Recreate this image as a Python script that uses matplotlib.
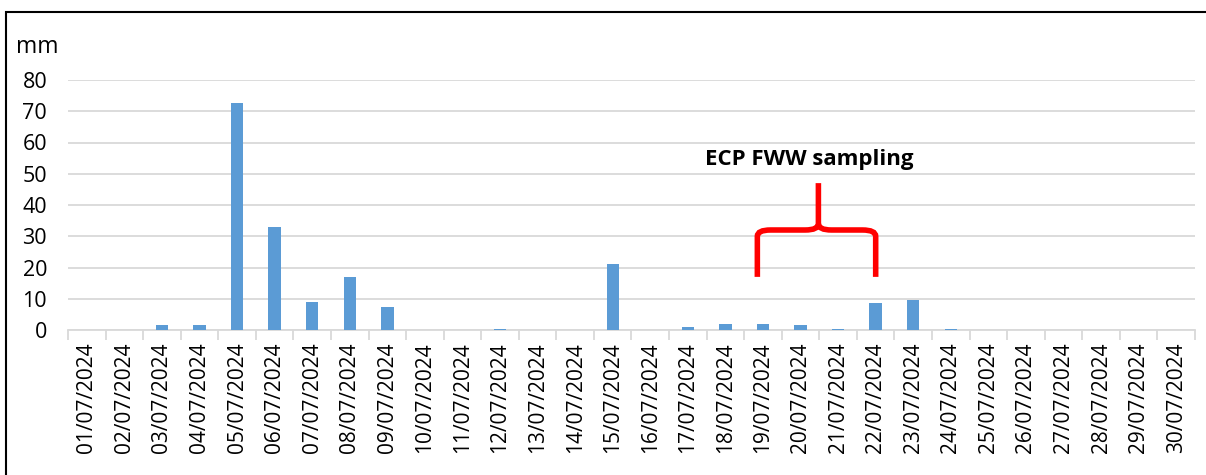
import numpy as np
import matplotlib.pyplot as plt
from matplotlib.path import Path
from matplotlib.patches import PathPatch, Rectangle

plt.rcParams['font.family'] = ['Open Sans', 'DejaVu Sans']

# daily rainfall, July 2024
dates = ['%02d/07/2024' % d for d in range(1, 31)]
rain_mm = [0, 0, 1.6, 1.6, 72.7, 33.0, 8.9, 17.0, 7.4, 0,
           0, 0.4, 0, 0, 21.0, 0, 1.0, 1.9, 1.9, 1.6,
           0.4, 8.8, 9.7, 0.4, 0, 0, 0, 0, 0, 0]
y_ticks = [0, 10, 20, 30, 40, 50, 60, 70, 80]
note = 'ECP FWW sampling'
note_from, note_to = '19/07/2024', '22/07/2024'

fig = plt.figure(figsize=(12.06, 4.75), dpi=100)
ax = fig.add_axes([68 / 1206, 1 - 330 / 475, (1195 - 68) / 1206, 250 / 475])

index = np.arange(len(dates))
ax.bar(index, rain_mm, 0.33, color='#5B9BD5', zorder=3)

ax.set_xlim(-0.5, len(dates) - 0.5)
ax.set_ylim(0, 80)
ax.set_yticks(y_ticks)
ax.yaxis.grid(True, color='#D9D9D9', lw=1.3, zorder=0)
ax.tick_params(axis='y', length=0, pad=15, labelsize=15.5)
for s in ['top', 'right', 'left']:
    ax.spines[s].set_visible(False)
ax.spines['bottom'].set_color('#D9D9D9')
ax.spines['bottom'].set_linewidth(1.3)

ax.set_xticks(index)
ax.set_xticklabels(dates, rotation=90, fontsize=15)
ax.tick_params(axis='x', length=0, pad=9)
ax.set_xticks(np.arange(-0.5, len(dates)), minor=True)
ax.tick_params(axis='x', which='minor', length=7, color='#D9D9D9', width=1.3)

fig.text(16 / 1206, 1 - 47 / 475, 'mm', fontsize=16.5, va='center', ha='left')

# curly brace over the sampling days
x0 = dates.index(note_from) - 0.15
x1 = dates.index(note_to)
xm = (x0 + x1) / 2 + 0.05
y_end, y_mid, y_top = 17, 32, 47
c = 0.35
verts = [(x0, y_end), (x0, y_mid - 2), (x0, y_mid), (x0 + c, y_mid),
         (xm - c, y_mid), (xm, y_mid), (xm, y_mid + 2), (xm, y_top)]
codes = [Path.MOVETO, Path.LINETO, Path.CURVE3, Path.CURVE3,
         Path.LINETO, Path.CURVE3, Path.CURVE3, Path.LINETO]
ax.add_patch(PathPatch(Path(verts, codes), fc='none', ec='#FF0000', lw=4, zorder=4))
verts2 = [(x1, y_end), (x1, y_mid - 2), (x1, y_mid), (x1 - c, y_mid),
          (xm + c, y_mid), (xm, y_mid), (xm, y_mid + 2)]
codes2 = [Path.MOVETO, Path.LINETO, Path.CURVE3, Path.CURVE3,
          Path.LINETO, Path.CURVE3, Path.CURVE3]
ax.add_patch(PathPatch(Path(verts2, codes2), fc='none', ec='#FF0000', lw=4, zorder=4))
ax.text(xm - 0.25, 54.5, note, fontsize=16, fontweight='bold', ha='center', va='center')

# outer frame
fig.patches.append(Rectangle((6 / 1206, -0.1), 1.2, 1.1 - 12 / 475,
                             transform=fig.transFigure, fill=False,
                             ec='black', lw=1.5))

fig.savefig('out.png', dpi=100)
